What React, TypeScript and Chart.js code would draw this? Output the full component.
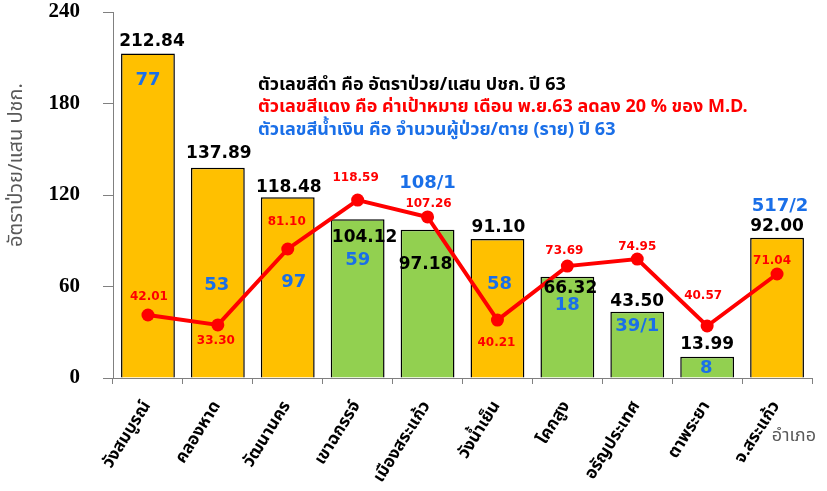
import { useEffect, useRef } from 'react';
import { Chart, registerables } from 'chart.js';

Chart.register(...registerables);

// ---- data ----
const categories = ['วังสมบูรณ์', 'คลองหาด', 'วัฒนานคร', 'เขาฉกรรจ์', 'เมืองสระแก้ว', 'วังน้ำเย็น', 'โคกสูง', 'อรัญประเทศ', 'ตาพระยา', 'จ.สระแก้ว'];
const rates = [212.84, 137.89, 118.48, 104.12, 97.18, 91.1, 66.32, 43.5, 13.99, 92.0];
const rateLabels = ['212.84', '137.89', '118.48', '104.12', '97.18', '91.10', '66.32', '43.50', '13.99', '92.00'];
const caseLabels = ['77', '53', '97', '59', '108/1', '58', '18', '39/1', '8', '517/2'];
// target line as plotted in the picture
const targets = [41.3, 34.8, 84.6, 116.7, 105.6, 38.0, 73.4, 78.0, 34.1, 68.2];
const targetLabels = ['42.01', '33.30', '81.10', '118.59', '107.26', '40.21', '73.69', '74.95', '40.57', '71.04'];
const barGroup = ['o', 'o', 'o', 'g', 'g', 'o', 'g', 'g', 'g', 'o'];
const yTicks = [0, 60, 120, 180, 240];

const yTitle = 'อัตราป่วย/แสน ปชก.';
const xTitle = 'อำเภอ';
const noteLines = [
  'ตัวเลขสีดำ คือ อัตราป่วย/แสน ปชก. ปี 63',
  'ตัวเลขสีแดง คือ ค่าเป้าหมาย เดือน พ.ย.63 ลดลง 20 % ของ M.D.',
  'ตัวเลขสีน้ำเงิน คือ จำนวนผู้ป่วย/ตาย (ราย) ปี 63',
];

// ---- label layout (pixel offsets / anchor values) ----
const rateLabelDx = [4, 1, 1, 7, -2, 1, 3, 0, 0, 0];
const rateLabelDy = [-12, -14, -10, 18, 35, -11, 12, -10, -12, -11];
const caseLabelAt = [195.4, 61, 63, 77.4, 127.5, 61.6, 47.9, 34.1, 6.6, 112.8];
const caseLabelDx = [0, -1, 6, 0, 0, 2, 0, 0, -1, 3];
const targetLabelDx = [1, -2, -1, -2, 1, -1, -3, 0, -4, -5];
const targetLabelDy = [-18, 16, -27, -22, -13, 23, -15, -12, -30, -13];

const ORANGE = '#FFC000';
const GREEN = '#92D050';
const RED = '#FF0000';
const BLUE = '#1A6FE8';
const THAI = "Tahoma, 'Noto Sans Thai', 'Leelawadee UI', 'DejaVu Sans', sans-serif";
const NUM = "Tahoma, 'DejaVu Sans', sans-serif";

export default function App() {
  const ref = useRef<HTMLCanvasElement>(null);

  useEffect(() => {
    document.body.style.margin = '0';
    const canvas = ref.current!;

    const labelPlugin = {
      id: 'customLabels',
      afterDatasetsDraw(chart: any) {
        const c = chart.ctx as CanvasRenderingContext2D;
        const ys = chart.scales.y;
        const barMeta = chart.getDatasetMeta(0);
        const lineMeta = chart.getDatasetMeta(1);
        c.save();

        // y-axis title
        c.save();
        c.translate(18, 165);
        c.rotate(-Math.PI / 2);
        c.font = `20px ${THAI}`;
        c.fillStyle = '#595959';
        c.textAlign = 'center';
        c.textBaseline = 'middle';
        c.fillText(yTitle, 0, 0);
        c.restore();

        // x-axis title
        c.font = `18px ${THAI}`;
        c.fillStyle = '#595959';
        c.textAlign = 'right';
        c.textBaseline = 'middle';
        c.fillText(xTitle, 816, 437);

        // note lines
        const noteColors = ['#000000', RED, BLUE];
        const noteY = [86, 108, 131];
        c.font = `bold 18px ${THAI}`;
        c.textAlign = 'left';
        noteLines.forEach((t, i) => {
          c.fillStyle = noteColors[i];
          c.fillText(t, 258, noteY[i]);
        });

        c.textAlign = 'center';
        c.textBaseline = 'middle';
        // bar value labels
        c.font = `bold 17px ${NUM}`;
        c.fillStyle = '#000000';
        barMeta.data.forEach((bar: any, i: number) => {
          c.fillText(rateLabels[i], bar.x + rateLabelDx[i], bar.y + rateLabelDy[i]);
        });
        // case count labels
        c.font = `bold 18px ${NUM}`;
        c.fillStyle = BLUE;
        barMeta.data.forEach((bar: any, i: number) => {
          c.fillText(caseLabels[i], bar.x + caseLabelDx[i], ys.getPixelForValue(caseLabelAt[i]));
        });
        // target labels
        c.font = `bold 12px ${NUM}`;
        c.fillStyle = RED;
        lineMeta.data.forEach((pt: any, i: number) => {
          c.fillText(targetLabels[i], pt.x + targetLabelDx[i], pt.y + targetLabelDy[i]);
        });
        c.restore();
      },
    };

    const chart = new Chart(canvas, {
      type: 'bar',
      data: {
        labels: categories,
        datasets: [
          {
            type: 'bar',
            label: 'rate',
            data: rates,
            backgroundColor: barGroup.map((g) => (g === 'o' ? ORANGE : GREEN)),
            borderColor: '#000000',
            borderWidth: 1.5,
            categoryPercentage: 1,
            barPercentage: 0.77,
            order: 2,
          },
          {
            type: 'line',
            label: 'target',
            data: targets,
            borderColor: RED,
            backgroundColor: RED,
            borderWidth: 4,
            pointRadius: 6.5,
            pointBackgroundColor: RED,
            pointBorderColor: RED,
            pointBorderWidth: 0,
            tension: 0,
            order: 1,
          } as any,
        ],
      },
      options: {
        responsive: false,
        animation: false,
        devicePixelRatio: 1,
        layout: { padding: { top: 12, right: 15, left: 0, bottom: 0 } },
        plugins: {
          legend: { display: false },
          title: { display: false },
          tooltip: { enabled: false },
        },
        scales: {
          x: {
            grid: { display: true, drawOnChartArea: false, offset: true, tickLength: 6, color: '#808080' },
            border: { display: true, color: '#808080', width: 1 },
            ticks: {
              autoSkip: false,
              minRotation: 58,
              maxRotation: 58,
              padding: 14,
              color: '#000000',
              font: { family: THAI, size: 17, weight: 'bold' },
            },
            afterFit: (s: any) => {
              s.height = 113;
              s.paddingLeft = 0;
              s.paddingRight = 0;
            },
          },
          y: {
            min: 0,
            max: 240,
            afterBuildTicks: (s: any) => {
              s.ticks = yTicks.map((v) => ({ value: v }));
            },
            grid: { display: true, drawOnChartArea: false, tickLength: 10, color: '#808080' },
            border: { display: true, color: '#808080', width: 1 },
            ticks: {
              padding: 23,
              color: '#000000',
              font: { family: "'Liberation Serif', 'Times New Roman', serif", size: 21, weight: 'bold' },
            },
            afterFit: (s: any) => {
              s.width = 113;
              s.paddingTop = 0;
              s.paddingBottom = 0;
            },
          },
        },
      },
      plugins: [labelPlugin],
    });
    return () => chart.destroy();
  }, []);

  return (
    <div style={{ position: 'absolute', left: 0, top: 0, width: 827, height: 491, background: '#ffffff' }}>
      <canvas ref={ref} width={827} height={491} style={{ display: 'block' }} />
    </div>
  );
}
